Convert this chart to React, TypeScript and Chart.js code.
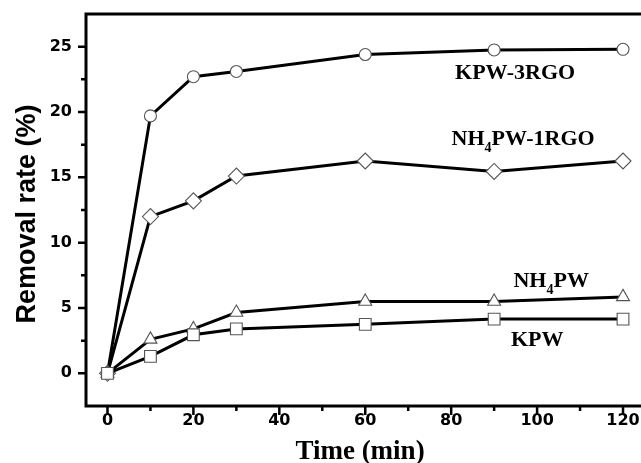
import React, { useEffect, useRef } from 'react';
import { Chart, registerables } from 'chart.js';

Chart.register(...registerables);

// ---- data ----
const times = [0, 10, 20, 30, 60, 90, 120];
const kpw3rgo = [0, 19.7, 22.7, 23.1, 24.4, 24.75, 24.8];
const nh4pw1rgo = [0, 12.0, 13.2, 15.1, 16.25, 15.45, 16.25];
const nh4pw = [0, 2.6, 3.4, 4.65, 5.5, 5.5, 5.85];
const kpw = [0, 1.3, 2.95, 3.4, 3.75, 4.15, 4.15];

const xMajorTicks = [0, 20, 40, 60, 80, 100, 120];
const xMinorTicks = [10, 30, 50, 70, 90, 110];
const yMajorTicks = [0, 5, 10, 15, 20, 25];
const yMinorTicks = [2.5, 7.5, 12.5, 17.5, 22.5];

const xTitle = 'Time (min)';
const yTitle = 'Removal rate (%)';

// series labels written as rich parts (sub = subscript)
const labelKPW3RGO = [{ t: 'KPW-3RGO', sub: false }];
const labelNH4PW1RGO = [{ t: 'NH', sub: false }, { t: '4', sub: true }, { t: 'PW-1RGO', sub: false }];
const labelNH4PW = [{ t: 'NH', sub: false }, { t: '4', sub: true }, { t: 'PW', sub: false }];
const labelKPW = [{ t: 'KPW', sub: false }];

type Part = { t: string; sub: boolean };

const annotations: { parts: Part[]; x: number; y: number }[] = [
  { parts: labelKPW3RGO, x: 80.9, y: 22.55 },
  { parts: labelNH4PW1RGO, x: 80.1, y: 17.45 },
  { parts: labelNH4PW, x: 94.5, y: 6.58 },
  { parts: labelKPW, x: 93.9, y: 2.09 },
];

function drawRich(ctx: CanvasRenderingContext2D, parts: Part[], x: number, y: number) {
  let cx = x;
  ctx.textAlign = 'left';
  ctx.textBaseline = 'alphabetic';
  for (const p of parts) {
    ctx.font = p.sub ? 'bold 14px "Liberation Serif"' : 'bold 22px "Liberation Serif"';
    const dy = p.sub ? 7 : 0;
    ctx.fillText(p.t, cx, y + dy);
    cx += ctx.measureText(p.t).width;
  }
}

const framePlugin = {
  id: 'frame',
  afterDraw(chart: any) {
    const { ctx, chartArea: a, scales } = chart;
    const xs = scales.x;
    const ys = scales.y;
    ctx.save();
    ctx.strokeStyle = '#000';
    ctx.fillStyle = '#000';
    ctx.lineWidth = 3;
    ctx.strokeRect(a.left, a.top, a.right - a.left, a.bottom - a.top);
    ctx.lineWidth = 2.5;
    ctx.beginPath();
    for (const v of xMajorTicks) {
      const px = xs.getPixelForValue(v);
      ctx.moveTo(px, a.bottom);
      ctx.lineTo(px, a.bottom + 9);
    }
    for (const v of xMinorTicks) {
      const px = xs.getPixelForValue(v);
      ctx.moveTo(px, a.bottom);
      ctx.lineTo(px, a.bottom + 5);
    }
    for (const v of yMajorTicks) {
      const py = ys.getPixelForValue(v);
      ctx.moveTo(a.left, py);
      ctx.lineTo(a.left - 8, py);
    }
    for (const v of yMinorTicks) {
      const py = ys.getPixelForValue(v);
      ctx.moveTo(a.left, py);
      ctx.lineTo(a.left - 5, py);
    }
    ctx.stroke();

    // axis titles
    ctx.font = 'bold 27px "Liberation Serif"';
    ctx.textAlign = 'center';
    ctx.textBaseline = 'alphabetic';
    ctx.fillText(xTitle, 360, 459);

    ctx.save();
    ctx.translate(28, 214);
    ctx.rotate(-Math.PI / 2);
    ctx.font = 'bold 27px "Liberation Sans"';
    ctx.textAlign = 'center';
    ctx.textBaseline = 'middle';
    ctx.fillText(yTitle, 0, 0);
    ctx.restore();

    // series labels
    for (const an of annotations) {
      drawRich(ctx, an.parts, xs.getPixelForValue(an.x), ys.getPixelForValue(an.y));
    }
    ctx.restore();
  },
};

function makeSet(label: string, values: number[], style: string, radius: number) {
  return {
    label,
    data: times.map((t, i) => ({ x: t, y: values[i] })),
    borderColor: '#000',
    borderWidth: 3,
    pointStyle: style,
    pointRadius: radius,
    pointHoverRadius: radius,
    pointBackgroundColor: '#fff',
    pointBorderColor: '#555',
    pointBorderWidth: 1.1,
    tension: 0,
    fill: false,
  };
}

export default function App() {
  const ref = useRef<HTMLCanvasElement>(null);
  useEffect(() => {
    if (!ref.current) return;
    const tickFont = { family: 'DejaVu Sans', weight: 'bold' as const, size: 16 };
    const chart = new Chart(ref.current, {
      type: 'line',
      data: {
        datasets: [
          makeSet('KPW', kpw, 'rect', 8.3),
          makeSet('NH4PW', nh4pw, 'triangle', 7.5),
          makeSet('NH4PW-1RGO', nh4pw1rgo, 'rectRot', 8),
          makeSet('KPW-3RGO', kpw3rgo, 'circle', 6),
        ] as any,
      },
      options: {
        animation: false,
        responsive: false,
        devicePixelRatio: 1,
        layout: { padding: { top: 14, right: 15.5, left: 0, bottom: 0 } },
        plugins: { legend: { display: false }, tooltip: { enabled: false } },
        scales: {
          x: {
            type: 'linear',
            min: -5,
            max: 125,
            afterBuildTicks: (s: any) => {
              s.ticks = xMajorTicks.map((v) => ({ value: v }));
            },
            afterFit: (s: any) => {
              s.height = 57;
              s.paddingLeft = 0;
              s.paddingRight = 0;
              s.paddingTop = 0;
              s.paddingBottom = 0;
            },
            grid: { display: false, drawTicks: false },
            border: { display: false },
            ticks: { font: tickFont, color: '#000', padding: 5, maxRotation: 0, autoSkip: false },
          },
          y: {
            type: 'linear',
            min: -2.5,
            max: 27.5,
            afterBuildTicks: (s: any) => {
              s.ticks = yMajorTicks.map((v) => ({ value: v }));
            },
            afterFit: (s: any) => {
              s.width = 86;
              s.paddingLeft = 0;
              s.paddingRight = 0;
              s.paddingTop = 0;
              s.paddingBottom = 0;
            },
            grid: { display: false, drawTicks: false },
            border: { display: false },
            ticks: { font: tickFont, color: '#000', padding: 14, autoSkip: false },
          },
        },
      } as any,
      plugins: [framePlugin],
    });
    return () => chart.destroy();
  }, []);
  return (
    <div style={{ position: 'fixed', left: 0, top: 0, width: 641, height: 463, overflow: 'hidden', background: '#fff' }}>
      <canvas ref={ref} width={660} height={463} style={{ display: 'block' }} />
    </div>
  );
}
